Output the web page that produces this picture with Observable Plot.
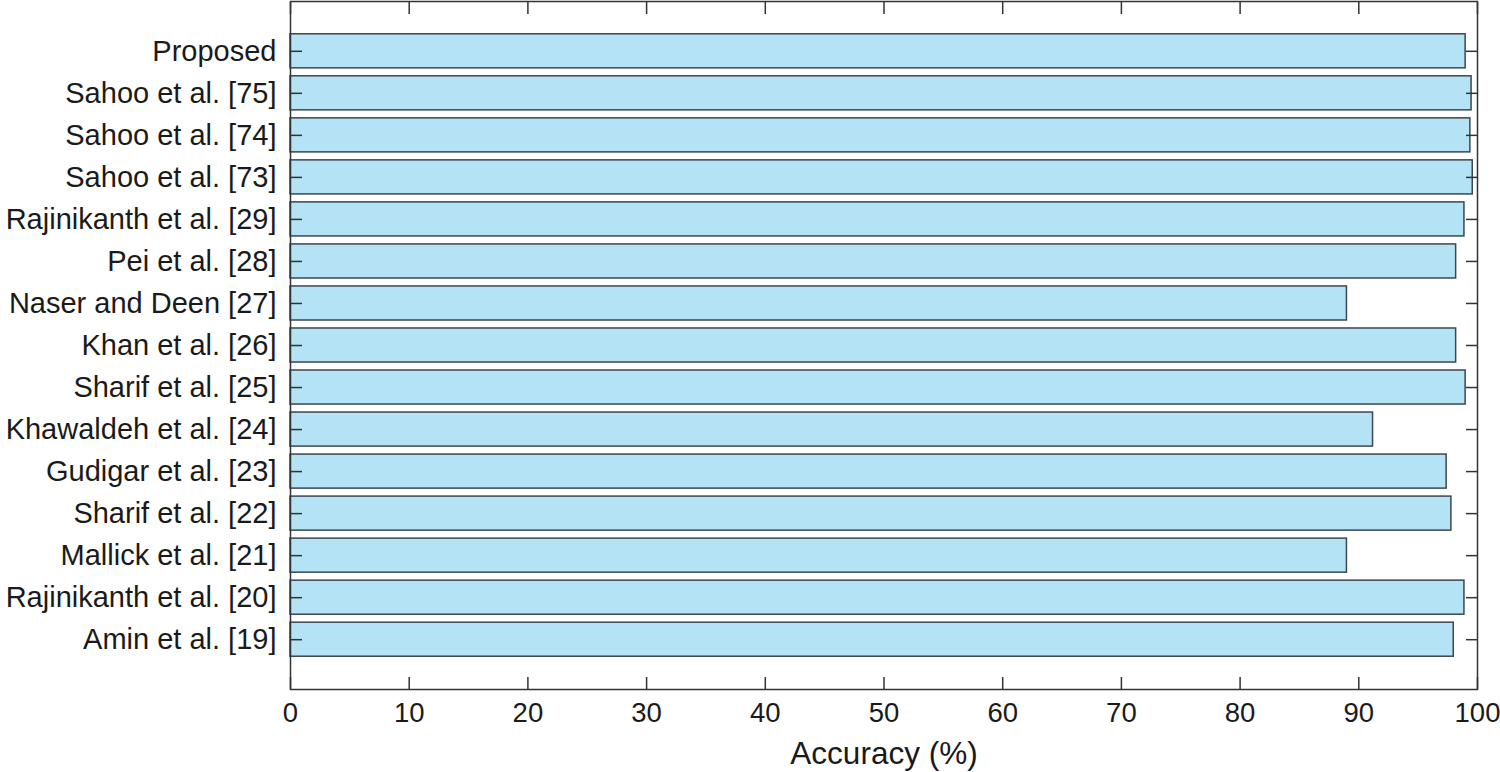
<!DOCTYPE html>
<html>
<head>
<meta charset="utf-8">
<script src="https://cdn.jsdelivr.net/npm/d3@7"></script>
<script src="https://cdn.jsdelivr.net/npm/@observablehq/plot@0.6"></script>
<style>
  html, body { margin: 0; padding: 0; background: #fff; }
  #chart { width: 1500px; height: 772px; }
</style>
</head>
<body>
<div id="chart"></div>
<script>
const methods = [
  "Proposed",
  "Sahoo et al. [75]",
  "Sahoo et al. [74]",
  "Sahoo et al. [73]",
  "Rajinikanth et al. [29]",
  "Pei et al. [28]",
  "Naser and Deen [27]",
  "Khan et al. [26]",
  "Sharif et al. [25]",
  "Khawaldeh et al. [24]",
  "Gudigar et al. [23]",
  "Sharif et al. [22]",
  "Mallick et al. [21]",
  "Rajinikanth et al. [20]",
  "Amin et al. [19]"
];
const accuracy = [99.0, 99.5, 99.4, 99.6, 98.9, 98.2, 89.0, 98.2, 99.0, 91.2, 97.4, 97.8, 89.0, 98.9, 98.0];
const xTicks = [0, 10, 20, 30, 40, 50, 60, 70, 80, 90, 100];
const xLabel = "Accuracy (%)";

const data = methods.map((m, i) => ({method: m, value: accuracy[i]}));

const ink = "#333333";
const textInk = "#1a1a1a";
const plot = Plot.plot({
  width: 1500,
  height: 772,
  marginLeft: 290,
  marginRight: 23,
  marginTop: 1,
  marginBottom: 83,
  style: {fontFamily: "'Liberation Sans', Arial, Helvetica, sans-serif", fontSize: "27px", color: textInk, background: "#fff"},
  x: {domain: [0, 100]},
  y: {domain: methods, paddingInner: 0.19, paddingOuter: 0.78, round: false},
  marks: [
    Plot.barX(data, {x: "value", y: "method", fill: "#b3e3f5", stroke: "#3c4650", strokeWidth: 1.5}),
    Plot.axisY({anchor: "left", tickSize: 0, tickPadding: 14, label: null, fill: textInk, fontSize: 29}),
    Plot.axisY({anchor: "left", tickSize: 12, dx: 12, text: null, label: null, stroke: ink, strokeWidth: 1.5}),
    Plot.axisY({anchor: "right", tickSize: 12, dx: -12, text: null, label: null, stroke: ink, strokeWidth: 1.5}),
    Plot.axisX({anchor: "bottom", ticks: xTicks, tickSize: 0, tickPadding: 13, label: null, fill: textInk, fontSize: 27.5}),
    Plot.axisX({anchor: "bottom", ticks: xTicks, tickSize: 0, text: null, label: xLabel, labelAnchor: "center", labelArrow: "none", labelOffset: 74, fill: textInk, fontSize: 31.5}),
    Plot.axisX({anchor: "bottom", ticks: xTicks, tickSize: 12, dy: -12, text: null, label: null, stroke: ink, strokeWidth: 1.5}),
    Plot.axisX({anchor: "top", ticks: xTicks, tickSize: 12, dy: 12, text: null, label: null, stroke: ink, strokeWidth: 1.5}),
    Plot.frame({stroke: ink, strokeWidth: 1.5})
  ]
});
document.getElementById("chart").appendChild(plot);
</script>
</body>
</html>
